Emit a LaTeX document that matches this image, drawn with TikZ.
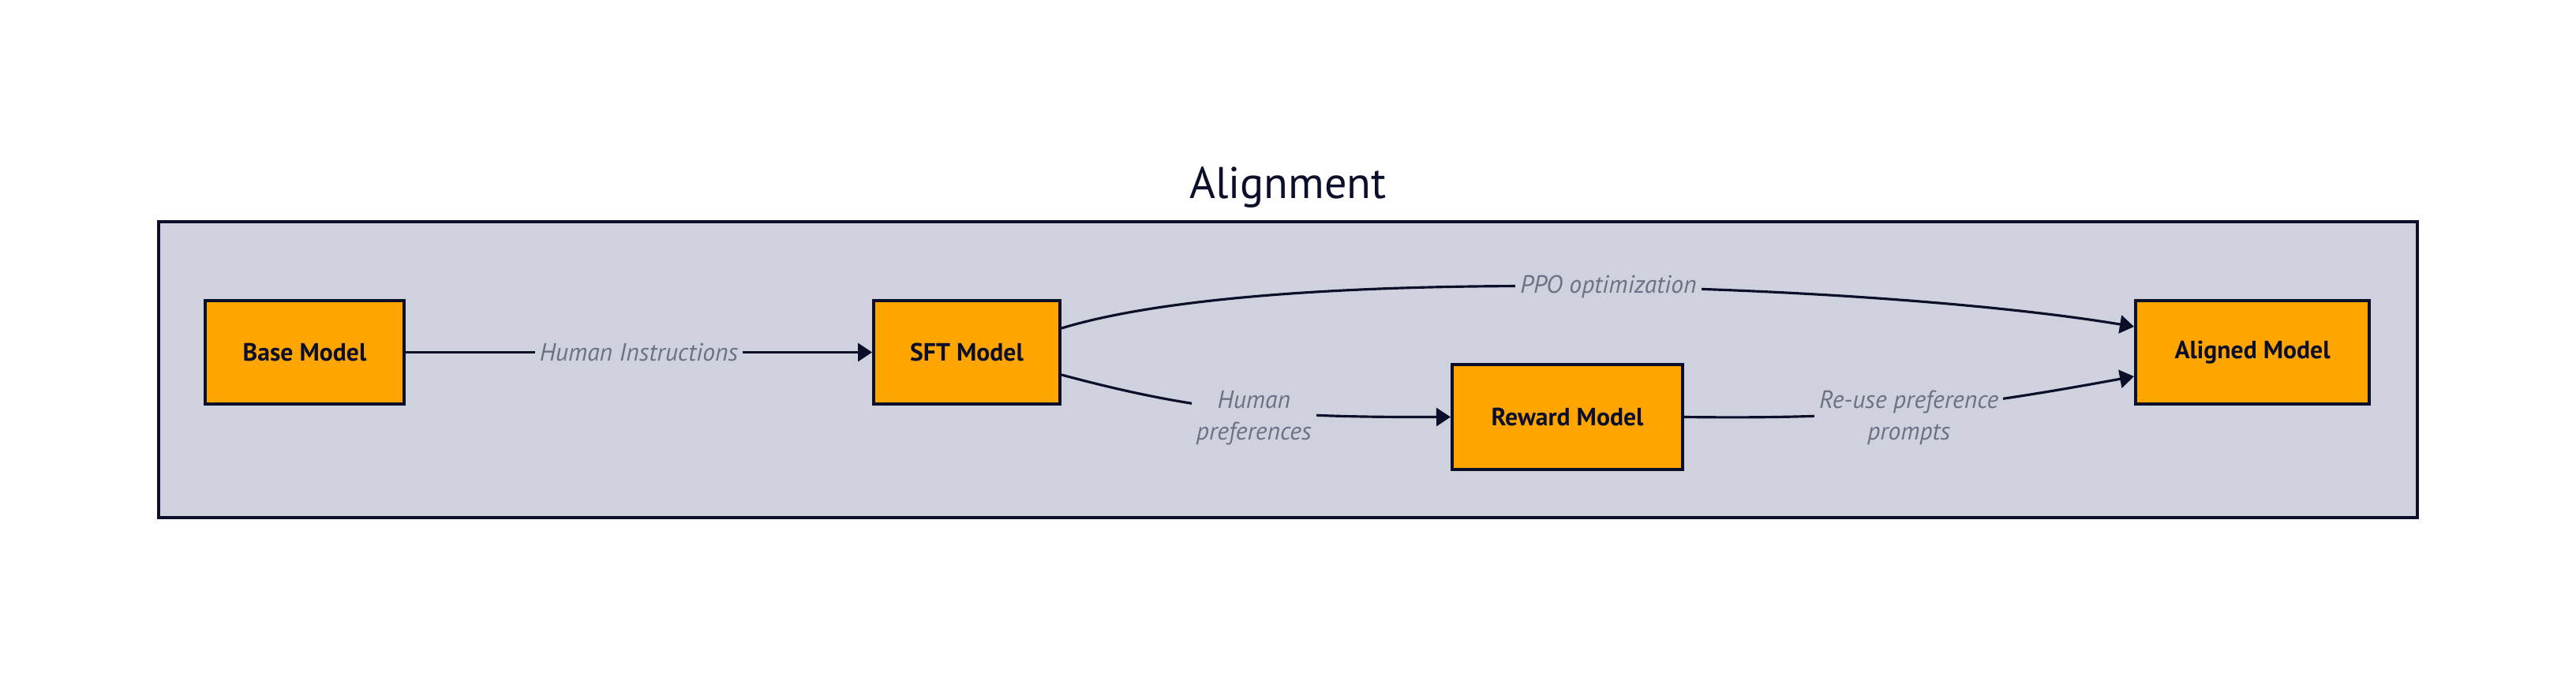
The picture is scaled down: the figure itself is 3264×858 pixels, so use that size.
\documentclass[tikz,border=0pt]{standalone}
\usepackage{fontspec}
\setmainfont{PT Sans}
\usetikzlibrary{arrows.meta}
\definecolor{ink}{HTML}{0B0F2A}
\definecolor{groupbg}{HTML}{CFD2DE}
\definecolor{boxfill}{HTML}{FFA500}
\definecolor{lbl}{HTML}{6E7185}
\tikzset{
  modelbox/.style={draw=ink, fill=boxfill, line width=1.1pt, inner sep=0pt,
    font=\fontsize{9}{10.5}\selectfont\bfseries, text=ink},
  flow/.style={draw=ink, line width=0.9pt, -{Triangle[length=0.18cm,width=0.23cm]}},
  edgelbl/.style={fill=groupbg, inner sep=0.06cm, text=lbl, align=center,
    font=\fontsize{9}{11.5}\selectfont\itshape},
}
\begin{document}
\begin{tikzpicture}[x=0.01cm, y=-0.01cm]
\path[use as bounding box] (0,0) rectangle (3264,858);
\node[draw=ink, fill=groupbg, line width=1.1pt, minimum width=28.6cm, minimum height=3.75cm, inner sep=0pt] (group) at (1632,468.5) {};
\node[font=\fontsize{16}{19}\selectfont, text=ink] (title) at (1632,237) {Alignment};
\node[modelbox, minimum width=2.52cm, minimum height=1.31cm] (base) at (386,446.5) {Base Model};
\node[modelbox, minimum width=2.36cm, minimum height=1.31cm] (sft) at (1225,446.5) {SFT Model};
\node[modelbox, minimum width=2.92cm, minimum height=1.33cm] (reward) at (1986,528.5) {Reward Model};
\node[modelbox, minimum width=2.96cm, minimum height=1.31cm] (aligned) at (2854,446.5) {Aligned Model};
\draw[flow] (base.east) -- node[edgelbl] {Human Instructions} (sft.west);
\draw[flow] (sft.east |- 0,416) .. controls (1620,332) and (2380,360) .. node[edgelbl, pos=0.52] {PPO optimization} (aligned.west |- 0,414);
\draw[flow] (sft.east |- 0,475) .. controls (1520,522) and (1620,529) .. node[edgelbl, pos=0.53, yshift=-0.09cm] {Human\\preferences} (reward.west);
\draw[flow] (reward.east) .. controls (2350,531) and (2460,522) .. node[edgelbl, pos=0.52, yshift=-0.1cm] {Re-use preference\\prompts} (aligned.west |- 0,477);
\end{tikzpicture}
\end{document}
